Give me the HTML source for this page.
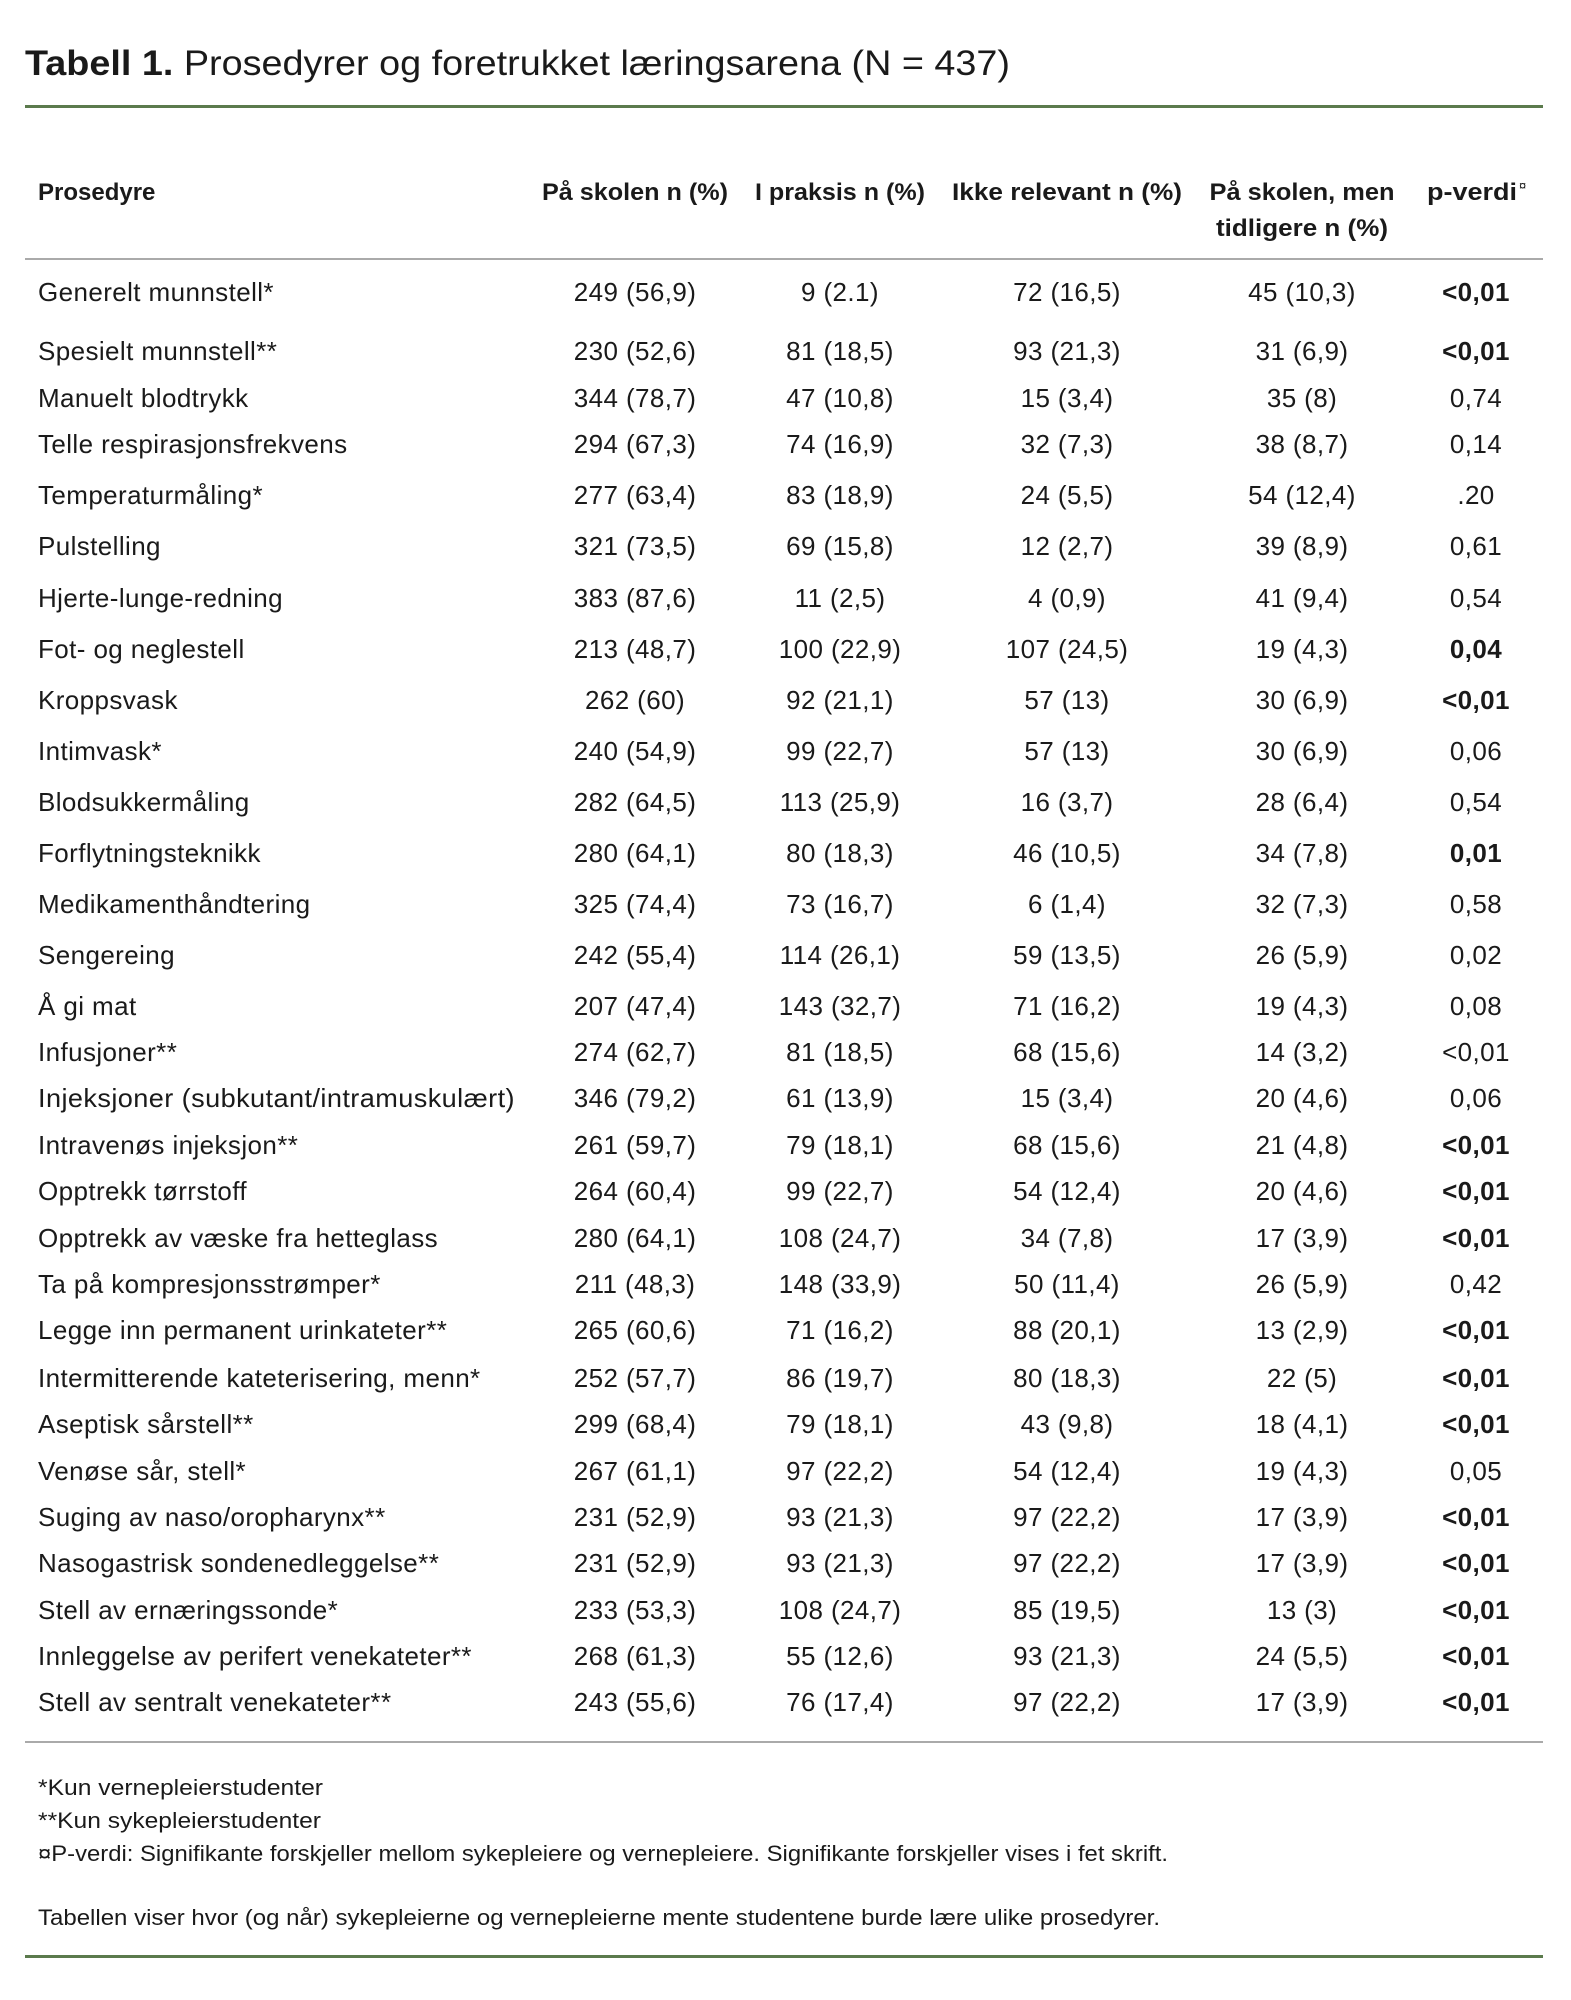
<!DOCTYPE html>
<html><head><meta charset="utf-8"><style>
html,body{margin:0;padding:0;background:#fff}
svg{display:block}
text{font-family:"Liberation Sans",sans-serif;fill:#1a1a1a}
.r{font-size:26px;letter-spacing:0.4px}
.h{font-size:24px;font-weight:bold}
.c{text-anchor:middle}
.b{font-weight:bold}
.f{font-size:22px}
</style></head><body>
<svg width="1571" height="2000" viewBox="0 0 1571 2000" xmlns="http://www.w3.org/2000/svg">
<text x="25" y="75" font-size="35" textLength="985" lengthAdjust="spacingAndGlyphs"><tspan font-weight="bold">Tabell 1.</tspan> Prosedyrer og foretrukket læringsarena (N = 437)</text>
<rect x="25" y="105" width="1518" height="3" fill="#5b7a4d"/>
<text class="h" x="38" y="200">Prosedyre</text>
<text class="h c" x="635" y="200" textLength="186" lengthAdjust="spacingAndGlyphs">På skolen n (%)</text>
<text class="h c" x="840" y="200" textLength="170" lengthAdjust="spacingAndGlyphs">I praksis n (%)</text>
<text class="h c" x="1067" y="200" textLength="230" lengthAdjust="spacingAndGlyphs">Ikke relevant n (%)</text>
<text class="h c" x="1302" y="200" textLength="185" lengthAdjust="spacingAndGlyphs">På skolen, men</text>
<text class="h c" x="1302" y="236" textLength="172" lengthAdjust="spacingAndGlyphs">tidligere n (%)</text>
<text class="h c" x="1472" y="200" textLength="90" lengthAdjust="spacingAndGlyphs">p-verdi</text>
<text x="1519" y="190" font-size="13">¤</text>
<rect x="25" y="258" width="1518" height="2" fill="#aaa"/>
<g class="r" id="rows"></g>
<rect x="25" y="1741" width="1518" height="2" fill="#aaa"/>
<text class="f" x="38" y="1795" textLength="285" lengthAdjust="spacingAndGlyphs">*Kun vernepleierstudenter</text>
<text class="f" x="38" y="1828" textLength="283" lengthAdjust="spacingAndGlyphs">**Kun sykepleierstudenter</text>
<text class="f" x="38" y="1861" textLength="1130" lengthAdjust="spacingAndGlyphs">¤P-verdi: Signifikante forskjeller mellom sykepleiere og vernepleiere. Signifikante forskjeller vises i fet skrift.</text>
<text class="f" x="38" y="1925" textLength="1122" lengthAdjust="spacingAndGlyphs">Tabellen viser hvor (og når) sykepleierne og vernepleierne mente studentene burde lære ulike prosedyrer.</text>
<rect x="25" y="1955" width="1518" height="3" fill="#5b7a4d"/>
</svg>
<script>
var d=[
[229,"Generelt munnstell*","249 (56,9)","9 (2.1)","72 (16,5)","45 (10,3)","<0,01",1],
[275,"Spesielt munnstell**","230 (52,6)","81 (18,5)","93 (21,3)","31 (6,9)","<0,01",1],
[312,"Manuelt blodtrykk","344 (78,7)","47 (10,8)","15 (3,4)","35 (8)","0,74",0],
[348,"Telle respirasjonsfrekvens","294 (67,3)","74 (16,9)","32 (7,3)","38 (8,7)","0,14",0],
[388,"Temperaturmåling*","277 (63,4)","83 (18,9)","24 (5,5)","54 (12,4)",".20",0],
[428,"Pulstelling","321 (73,5)","69 (15,8)","12 (2,7)","39 (8,9)","0,61",0],
[468,"Hjerte-lunge-redning","383 (87,6)","11 (2,5)","4 (0,9)","41 (9,4)","0,54",0],
[508,"Fot- og neglestell","213 (48,7)","100 (22,9)","107 (24,5)","19 (4,3)","0,04",1],
[548,"Kroppsvask","262 (60)","92 (21,1)","57 (13)","30 (6,9)","<0,01",1],
[588,"Intimvask*","240 (54,9)","99 (22,7)","57 (13)","30 (6,9)","0,06",0],
[628,"Blodsukkermåling","282 (64,5)","113 (25,9)","16 (3,7)","28 (6,4)","0,54",0],
[668,"Forflytningsteknikk","280 (64,1)","80 (18,3)","46 (10,5)","34 (7,8)","0,01",1],
[708,"Medikamenthåndtering","325 (74,4)","73 (16,7)","6 (1,4)","32 (7,3)","0,58",0],
[748,"Sengereing","242 (55,4)","114 (26,1)","59 (13,5)","26 (5,9)","0,02",0],
[788,"Å gi mat","207 (47,4)","143 (32,7)","71 (16,2)","19 (4,3)","0,08",0],
[824,"Infusjoner**","274 (62,7)","81 (18,5)","68 (15,6)","14 (3,2)","<0,01",0],
[860,"Injeksjoner (subkutant/intramuskulært)","346 (79,2)","61 (13,9)","15 (3,4)","20 (4,6)","0,06",0],
[897,"Intravenøs injeksjon**","261 (59,7)","79 (18,1)","68 (15,6)","21 (4,8)","<0,01",1],
[933,"Opptrekk tørrstoff","264 (60,4)","99 (22,7)","54 (12,4)","20 (4,6)","<0,01",1],
[970,"Opptrekk av væske fra hetteglass","280 (64,1)","108 (24,7)","34 (7,8)","17 (3,9)","<0,01",1],
[1006,"Ta på kompresjonsstrømper*","211 (48,3)","148 (33,9)","50 (11,4)","26 (5,9)","0,42",0],
[1042,"Legge inn permanent urinkateter**","265 (60,6)","71 (16,2)","88 (20,1)","13 (2,9)","<0,01",1],
[1079,"Intermitterende kateterisering, menn*","252 (57,7)","86 (19,7)","80 (18,3)","22 (5)","<0,01",1],
[1115,"Aseptisk sårstell**","299 (68,4)","79 (18,1)","43 (9,8)","18 (4,1)","<0,01",1],
[1152,"Venøse sår, stell*","267 (61,1)","97 (22,2)","54 (12,4)","19 (4,3)","0,05",0],
[1188,"Suging av naso/oropharynx**","231 (52,9)","93 (21,3)","97 (22,2)","17 (3,9)","<0,01",1],
[1224,"Nasogastrisk sondenedleggelse**","231 (52,9)","93 (21,3)","97 (22,2)","17 (3,9)","<0,01",1],
[1261,"Stell av ernæringssonde*","233 (53,3)","108 (24,7)","85 (19,5)","13 (3)","<0,01",1],
[1297,"Innleggelse av perifert venekateter**","268 (61,3)","55 (12,6)","93 (21,3)","24 (5,5)","<0,01",1],
[1333,"Stell av sentralt venekateter**","243 (55,6)","76 (17,4)","97 (22,2)","17 (3,9)","<0,01",1]];
var g=document.getElementById('rows'),ns="http://www.w3.org/2000/svg",xs=[635,840,1067,1302,1476];
d.forEach(function(r){var y=Math.round(r[0]*1.2768)+9;
function t(x,s,cls){var e=document.createElementNS(ns,'text');e.setAttribute('x',x);e.setAttribute('y',y);if(cls)e.setAttribute('class',cls);e.textContent=s;g.appendChild(e);return e;}
var l=t(38,r[1]);if(r[1].indexOf("subkutant")>0){l.setAttribute('textLength',477);l.setAttribute('lengthAdjust','spacingAndGlyphs');}
for(var i=0;i<4;i++)t(xs[i],r[2+i],'c');
t(xs[4],r[6],r[7]?'c b':'c');});
</script>
</body></html>
